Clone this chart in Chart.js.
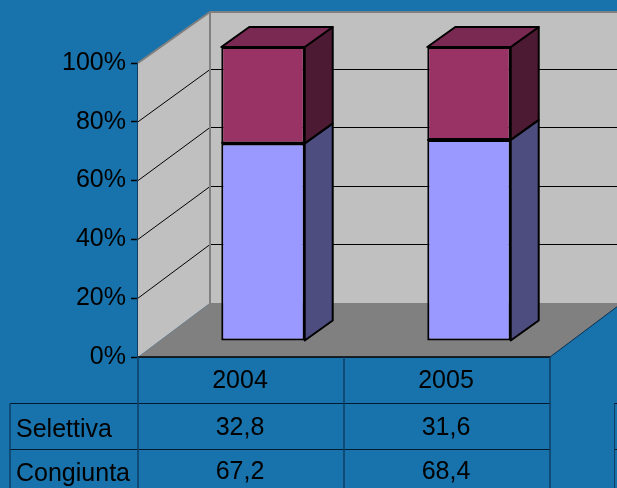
<!DOCTYPE html>
<html>
<head>
<meta charset="utf-8">
<title>Selettiva / Congiunta</title>
<style>
body { margin: 0; background: #1872ab; overflow: hidden; }
canvas { display: block; }
</style>
<script src="https://cdn.jsdelivr.net/npm/chart.js@4"></script>
</head>
<body>
<canvas id="chart" width="617" height="488"></canvas>
<script>
const years = ['2004', '2005'];
const selettiva = [32.8, 31.6];
const congiunta = [67.2, 68.4];
const y_ticks = [0, 20, 40, 60, 80, 100];

const FAMILY = '"Liberation Sans", Arial, sans-serif';
const FONT = '25px ' + FAMILY;

// depth of the fake 3d box and of the bars in it
const wall_dx = 72;
const back_top = 12, back_bottom = 303;
const bar_dx = 28, bar_dy = 20;
const shift_x = 22, shift_y = 16;

function poly(ctx, pts, fill, stroke, lw)
{
    ctx.beginPath();
    ctx.moveTo(pts[0][0], pts[0][1]);
    for (var i = 1; i < pts.length; i++)
	ctx.lineTo(pts[i][0], pts[i][1]);
    ctx.closePath();
    if (fill) {
	ctx.fillStyle = fill;
	ctx.fill();
    }
    if (stroke) {
	ctx.strokeStyle = stroke;
	ctx.lineWidth = lw;
	ctx.lineJoin = 'round';
	ctx.stroke();
    }
}

function line(ctx, x1, y1, x2, y2, color, lw)
{
    ctx.beginPath();
    ctx.moveTo(x1, y1);
    ctx.lineTo(x2, y2);
    ctx.strokeStyle = color;
    ctx.lineWidth = lw;
    ctx.stroke();
}

function draw_box(chart)
{
    const ctx = chart.ctx;
    const a = chart.chartArea;
    const y = chart.scales.y;
    const y0 = y.getPixelForValue(0), y100 = y.getPixelForValue(100);
    const bl = a.left + wall_dx, br = a.right + wall_dx;

    // back wall, left wall, floor
    poly(ctx, [[bl, back_top], [br, back_top], [br, back_bottom], [bl, back_bottom]], '#c0c0c0');
    poly(ctx, [[a.left, y0], [a.left, y100], [bl, back_top], [bl, back_bottom]], '#c0c0c0');
    poly(ctx, [[a.left, y0], [a.right, y0], [br, back_bottom], [bl, back_bottom]], '#808080');

    y_ticks.forEach(function(v) {
	if (v == 0 || v == 100)
	    return;
	var p = y.getPixelForValue(v);
	var q = Math.round(back_bottom + (back_top - back_bottom) * v / 100) - 0.5;
	line(ctx, a.left, p, bl, q, '#000', 1);
	line(ctx, bl, q, br, q, '#000', 1);
    });

    line(ctx, a.left, y100, bl, back_top, '#808080', 2);
    line(ctx, bl, back_top, br, back_top, '#808080', 2);
    line(ctx, bl, back_top, bl, back_bottom, '#808080', 2);
    line(ctx, a.right, y0, br, back_bottom, '#0b2f4d', 1);
    line(ctx, a.left, y0, a.right, y0, '#000', 1.5);
}

function draw_bar_sides(chart)
{
    const ctx = chart.ctx;
    const side = ['#4d4d80', '#4d1a33'];
    const top = '#7a2952';

    chart.data.datasets.forEach(function(ds, d) {
	chart.getDatasetMeta(d).data.forEach(function(bar) {
	    var l = bar.x - bar.width / 2 + shift_x, r = bar.x + bar.width / 2 + shift_x;
	    var t = bar.y - shift_y, b = bar.base - shift_y;

	    poly(ctx, [[r, t], [r + bar_dx, t - bar_dy], [r + bar_dx, b - bar_dy], [r, b]],
		 side[d], '#000', 2);
	    if (d == chart.data.datasets.length - 1)
		poly(ctx, [[l, t], [l + bar_dx, t - bar_dy], [r + bar_dx, t - bar_dy], [r, t]],
		     top, '#000', 2);
	});
    });
}

// the two stacked borders blur into each other, cover them with one line
function draw_joints(chart)
{
    chart.getDatasetMeta(1).data.forEach(function(bar) {
	var y = Math.round(bar.base);
	line(chart.ctx, bar.x - bar.width / 2, y, bar.x + bar.width / 2, y, '#000', 2);
    });
}

function draw_table(chart)
{
    const ctx = chart.ctx;
    const a = chart.chartArea;
    const x = chart.scales.x;
    const rows = [['Selettiva', selettiva], ['Congiunta', congiunta]];
    const row_y = [403.5, 449.5];
    const label_base = [437, 481];
    const value_base = [435, 479];
    const h = chart.height;
    const mid = x.getPixelForValue(0) + (x.getPixelForValue(1) - x.getPixelForValue(0)) / 2;

    line(ctx, 10, row_y[0], a.right, row_y[0], '#021a2e', 1);
    line(ctx, 10, row_y[1], a.right, row_y[1], '#021a2e', 1);
    line(ctx, 10, row_y[0], 10, h, '#0d3f66', 1.5);
    line(ctx, a.left, a.bottom, a.left, h, '#0d3f66', 1.5);
    line(ctx, mid, a.bottom, mid, h, '#0d3f66', 1.5);
    line(ctx, a.right, a.bottom, a.right, h, '#0d3f66', 1.5);

    // start of the next table, cut off by the frame
    line(ctx, 614, row_y[0], 617, row_y[0], '#021a2e', 1);
    line(ctx, 614, row_y[1], 617, row_y[1], '#021a2e', 1);
    line(ctx, 614.5, row_y[0], 614.5, h, '#0d3f66', 1);

    ctx.font = FONT;
    ctx.fillStyle = '#000';
    ctx.textBaseline = 'alphabetic';
    rows.forEach(function(row, i) {
	ctx.textAlign = 'left';
	ctx.fillText(row[0], 16, label_base[i]);
	ctx.textAlign = 'center';
	row[1].forEach(function(v, j) {
	    ctx.fillText(v.toFixed(1).replace('.', ','), x.getPixelForValue(j) - 1, value_base[i]);
	});
    });
}

const box_plugin = {
    id: 'box',
    beforeDatasetsDraw: function(chart) {
	draw_box(chart);
	draw_bar_sides(chart);
	chart.ctx.save();
	chart.ctx.translate(shift_x, -shift_y);
    },
    afterDatasetsDraw: function(chart) {
	draw_joints(chart);
	chart.ctx.restore();
	draw_table(chart);
    }
};

new Chart(document.getElementById('chart'), {
    type: 'bar',
    plugins: [box_plugin],
    data: {
	labels: years,
	datasets: [{
	    label: 'Congiunta',
	    data: congiunta,
	    backgroundColor: '#9999ff',
	    borderColor: '#000',
	    borderWidth: 2,
	    borderSkipped: false,
	    clip: false
	}, {
	    label: 'Selettiva',
	    data: selettiva,
	    backgroundColor: '#993366',
	    borderColor: '#000',
	    borderWidth: 2,
	    borderSkipped: false,
	    clip: false
	}]
    },
    options: {
	responsive: false,
	animation: false,
	categoryPercentage: 1,
	barPercentage: 0.405,
	layout: {
	    padding: {left: 0, top: 63, right: 67, bottom: 0}
	},
	plugins: {
	    legend: {display: false},
	    tooltip: {enabled: false}
	},
	scales: {
	    x: {
		stacked: true,
		afterFit: function(s) { s.height = 131; },
		grid: {display: false},
		border: {display: false},
		ticks: {color: '#000', font: {family: FAMILY, size: 25}, padding: 1, labelOffset: -1, maxRotation: 0}
	    },
	    y: {
		stacked: true,
		min: 0,
		max: 100,
		afterFit: function(s) { s.width = 138; },
		afterBuildTicks: function(s) { s.ticks = y_ticks.map(function(v) { return {value: v}; }); },
		grid: {drawOnChartArea: false, tickLength: 7, tickColor: '#000', tickWidth: 1.5},
		border: {display: true, color: '#0d3f66', width: 1.5},
		ticks: {
		    color: '#000',
		    font: {family: FAMILY, size: 25},
		    padding: 5,
		    callback: function(v) { return v + '%'; }
		}
	    }
	}
    }
});
</script>
</body>
</html>
